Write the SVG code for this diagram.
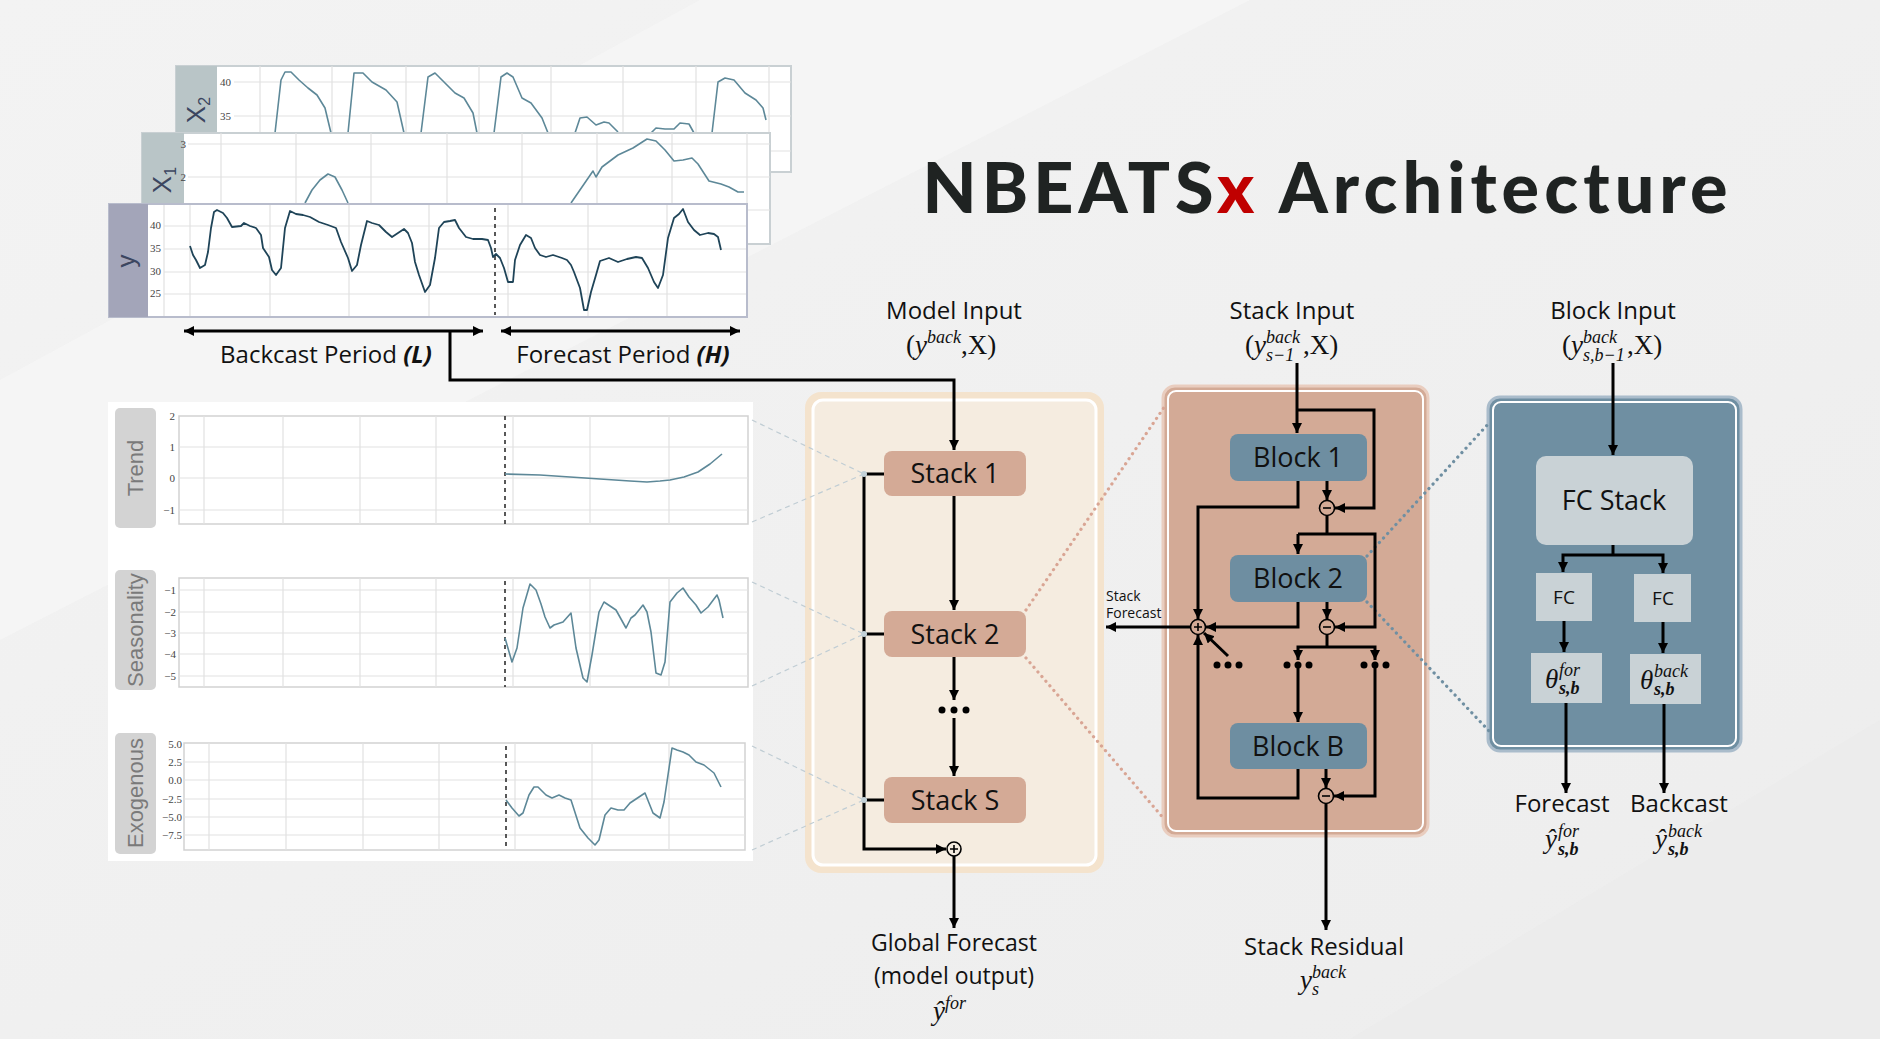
<svg xmlns="http://www.w3.org/2000/svg" width="1880" height="1039" viewBox="0 0 1880 1039">
<defs>
<marker id="ah" viewBox="0 0 10 10" refX="10" refY="5" markerWidth="10" markerHeight="10" markerUnits="userSpaceOnUse" orient="auto-start-reverse"><path d="M0,0 L10,5 L0,10 z" fill="#000"/></marker>
<linearGradient id="bg" x1="0" y1="0" x2="1" y2="1"><stop offset="0" stop-color="#f3f3f3"/><stop offset="0.5" stop-color="#f0f0f0"/><stop offset="1" stop-color="#ededed"/></linearGradient>
</defs>
<style>
.ui{font-family:"Open Sans","Noto Sans","Liberation Sans",sans-serif;fill:#111}
.m{font-family:"Liberation Serif","DejaVu Serif",serif;fill:#111}
.i{font-style:italic}
.tk{font-family:"Liberation Serif","DejaVu Serif",serif;font-size:11px;fill:#444}
.grid{stroke:#e2e2e2;stroke-width:1.2;fill:none}
.frame{fill:#fff;stroke:#d2d2d2;stroke-width:1.5}
.ln{fill:none;stroke:#000;stroke-width:3}
.ar{fill:none;stroke:#000;stroke-width:3;marker-end:url(#ah)}
.ar2{fill:none;stroke:#000;stroke-width:3;marker-end:url(#ah);marker-start:url(#ah)}
.op{fill:none;stroke:#000;stroke-width:1.6}
.dash{stroke:#222;stroke-width:1.5;stroke-dasharray:4 4}
.curve{fill:none;stroke:#5d8898;stroke-width:1.6;stroke-linejoin:round}
.stk{fill:#d4aa96}
.blk{fill:#6e8ea1}
.fc{fill:#c9d2d6}
.dl{font-family:"Liberation Sans",Arial,sans-serif;font-size:22px;fill:#7a7a7a}
.band{fill:#d3d3d3}
</style>
<rect width="1880" height="1039" fill="url(#bg)"/>
<polygon points="0,380 700,0 1250,0 0,640" fill="#f6f6f6" opacity="0.7"/>
<polygon points="1350,1039 1880,720 1880,1039" fill="#ebebeb" opacity="0.8"/>

<!-- Title -->
<text x="1325" y="213" font-family="Lato,'Open Sans',sans-serif" font-weight="900" font-size="70" text-anchor="middle" textLength="805" lengthAdjust="spacing" fill="#1f2322">NBEATS<tspan fill="#c00000">x</tspan> Architecture</text>

<!-- Top input charts -->
<g id="chart-x2">
<rect x="176" y="66" width="615" height="106" fill="#fff" stroke="#c9d0d3" stroke-width="2"/>
<rect x="176" y="66" width="41" height="106" fill="#b9c5c7"/>
<g class="grid"><path d="M234,82H791M234,116H791M234,151H791M260,66V172M332,66V172M406,66V172M479,66V172M551,66V172M623,66V172M696,66V172M769,66V172"/></g>
<text class="tk" x="231" y="86" text-anchor="end">40</text><text class="tk" x="231" y="120" text-anchor="end">35</text>
<text transform="translate(205,110) rotate(-90)" font-family="'Liberation Sans',sans-serif" font-size="26" fill="#3c4660" text-anchor="middle">X<tspan font-size="16" dy="5">2</tspan></text>
<polyline class="curve" points="275,133 281,80 285,72 291,72 299,80 308,88 317,95 325,108 331,133"/>
<polyline class="curve" points="348,133 354,73 363,73 372,82 386,90 397,102 404,133"/>
<polyline class="curve" points="421,133 428,77 435,73 444,82 455,93 464,98 473,113 477,133"/>
<polyline class="curve" points="494,133 501,77 507,73 513,77 522,98 531,103 542,118 548,133"/>
<polyline class="curve" points="575,133 580,118 587,117 596,125 604,122 609,123 618,132"/>
<polyline class="curve" points="651,133 656,128 665,129 674,129 680,123 689,124 694,133"/>
<polyline class="curve" points="712,133 718,82 725,78 734,80 745,93 756,100 763,108 766,120"/>
</g>
<g id="chart-x1">
<rect x="142" y="133" width="628" height="111" fill="#fff" stroke="#c9d0d3" stroke-width="2"/>
<rect x="142" y="133" width="42" height="111" fill="#b9c5c7"/>
<g class="grid"><path d="M188,144H770M188,177H770M188,210H770M221,133V244M296,133V244M371,133V244M447,133V244M522,133V244M597,133V244M672,133V244M747,133V244"/></g>
<text class="tk" x="186" y="148" text-anchor="end">3</text><text class="tk" x="186" y="181" text-anchor="end">2</text>
<text transform="translate(171,180) rotate(-90)" font-family="'Liberation Sans',sans-serif" font-size="26" fill="#3c4660" text-anchor="middle">X<tspan font-size="16" dy="5">1</tspan></text>
<polyline class="curve" points="305,203 312,190 320,180 328,174 335,177 342,190 348,203"/>
<polyline class="curve" points="571,203 582,187 593,171 596,177 602,167 618,155 633,148 647,139 656,141 665,150 674,161 683,160 692,158 698,164 709,181 721,184 729,187 738,192 744,192"/>
</g>
<g id="chart-y">
<rect x="109" y="204" width="638" height="113" fill="#fff" stroke="#b8bccc" stroke-width="2"/>
<rect x="109" y="204" width="39" height="113" fill="#a3a5b9"/>
<g class="grid"><path d="M164,205V316M164,226H746M164,249H746M164,272H746M164,294H746M190,205V316M270,205V316M349,205V316M429,205V316M508,205V316M588,205V316M667,205V316"/></g>
<text class="tk" x="161" y="229" text-anchor="end">40</text><text class="tk" x="161" y="252" text-anchor="end">35</text><text class="tk" x="161" y="275" text-anchor="end">30</text><text class="tk" x="161" y="297" text-anchor="end">25</text>
<text transform="translate(135,261) rotate(-90)" font-family="'Liberation Sans',sans-serif" font-size="26" fill="#3c4660" text-anchor="middle">y</text>
<line class="dash" x1="495" y1="208" x2="495" y2="315"/>
<polyline fill="none" stroke="#1f4458" stroke-width="1.8" stroke-linejoin="round" points="190,246 193,255 196,260 200,268 205,265 208,252 211,228 214,212 217,210 223,213 227,218 232,227 241,226 244,223 250,226 256,228 261,235 263,248 269,257 272,270 276,275 281,268 285,228 290,211 296,214 303,215 310,217 319,222 328,225 336,228 341,242 348,258 352,271 357,265 361,245 367,221 372,223 379,225 386,232 392,237 398,233 404,229 408,233 412,243 415,262 419,275 425,292 430,285 435,258 439,228 444,222 450,221 455,220 459,228 466,237 473,239 482,239 488,240 491,248 493,257 496,254 500,258 504,268 508,282 513,282 515,260 520,245 526,235 531,238 535,248 540,255 546,257 553,255 562,258 567,260 571,265 574,272 580,288 584,310 587,310 591,292 596,275 600,261 609,258 618,262 627,259 636,257 642,258 648,268 654,282 658,288 663,275 668,238 674,218 679,214 683,209 688,222 694,230 700,235 708,233 714,234 718,237 721,250"/>
</g>

<!-- Period arrows -->
<g id="periods">
<path class="ar2" d="M184,331H483"/>
<path class="ar2" d="M501,331H740"/>
<text class="ui" x="326" y="363" font-size="24" text-anchor="middle">Backcast Period <tspan font-weight="bold" font-style="italic">(L)</tspan></text>
<text class="ui" x="623" y="363" font-size="24" text-anchor="middle">Forecast Period <tspan font-weight="bold" font-style="italic">(H)</tspan></text>
</g>

<!-- Decomposition panels -->
<g id="decomposition">
<rect x="108" y="402" width="645" height="459" fill="#fff"/>
<g id="trend">
<rect class="band" x="115" y="408" width="41" height="120" rx="5"/>
<text class="dl" transform="translate(143,468) rotate(-90)" text-anchor="middle">Trend</text>
<rect class="frame" x="179" y="416" width="569" height="108"/>
<g class="grid"><path d="M179,447H748M179,478H748M179,510H748M204,416V524M283,416V524M360,416V524M436,416V524M513,416V524M590,416V524M669,416V524"/></g>
<text class="tk" x="175" y="420" text-anchor="end">2</text><text class="tk" x="175" y="451" text-anchor="end">1</text><text class="tk" x="175" y="482" text-anchor="end">0</text><text class="tk" x="175" y="514" text-anchor="end">−1</text>
<line class="dash" x1="505" y1="416" x2="505" y2="524"/>
<polyline class="curve" points="505,474 540,475 570,477 600,479 630,481 647,482 660,481 670,480 684,477 698,472 710,464 722,454"/>
</g>
<g id="seasonality">
<rect class="band" x="115" y="570" width="41" height="120" rx="5"/>
<text class="dl" transform="translate(143,630) rotate(-90)" text-anchor="middle">Seasonality</text>
<rect class="frame" x="179" y="578" width="569" height="109"/>
<g class="grid"><path d="M179,590H748M179,612H748M179,633H748M179,654H748M179,676H748M204,578V687M283,578V687M360,578V687M436,578V687M513,578V687M590,578V687M669,578V687"/></g>
<text class="tk" x="176" y="594" text-anchor="end">−1</text><text class="tk" x="176" y="616" text-anchor="end">−2</text><text class="tk" x="176" y="637" text-anchor="end">−3</text><text class="tk" x="176" y="658" text-anchor="end">−4</text><text class="tk" x="176" y="680" text-anchor="end">−5</text>
<line class="dash" x1="505" y1="581" x2="505" y2="687"/>
<polyline class="curve" points="505,638 512,662 517,648 523,608 530,584 536,590 541,604 545,617 550,628 554,625 563,622 571,613 576,648 583,678 587,682 592,655 599,612 604,602 616,610 626,628 631,618 635,615 643,605 647,612 651,632 656,673 661,675 665,662 670,602 677,593 683,588 689,597 696,605 701,613 708,607 717,595 719,600 723,618"/>
</g>
<g id="exogenous">
<rect class="band" x="115" y="733" width="41" height="121" rx="5"/>
<text class="dl" transform="translate(143,793) rotate(-90)" text-anchor="middle">Exogenous</text>
<rect class="frame" x="184" y="743" width="561" height="107"/>
<g class="grid"><path d="M184,762H745M184,780H745M184,799H745M184,817H745M184,835H745M209,743V850M286,743V850M363,743V850M439,743V850M515,743V850M592,743V850M669,743V850"/></g>
<text class="tk" x="182" y="748" text-anchor="end">5.0</text><text class="tk" x="182" y="766" text-anchor="end">2.5</text><text class="tk" x="182" y="784" text-anchor="end">0.0</text><text class="tk" x="182" y="803" text-anchor="end">−2.5</text><text class="tk" x="182" y="821" text-anchor="end">−5.0</text><text class="tk" x="182" y="839" text-anchor="end">−7.5</text>
<line class="dash" x1="506" y1="746" x2="506" y2="850"/>
<polyline class="curve" points="506,800 512,808 519,816 523,813 529,795 534,787 538,787 546,795 552,798 559,795 565,798 571,800 580,828 588,838 595,845 599,840 605,815 611,808 618,810 624,810 630,803 639,797 645,793 649,803 653,813 660,818 664,802 672,748 677,750 683,752 689,755 696,762 704,765 714,773 721,787"/>
</g>
</g>

<!-- Panels -->
<g id="stack-panel">
<rect x="805" y="392" width="299" height="481" rx="16" fill="#f4e3cd"/>
<rect x="813" y="400" width="283" height="465" rx="10" fill="#f5ece0" stroke="#fff" stroke-width="3"/>
</g>
<g id="block-panel">
<rect x="1163" y="386" width="265" height="450" rx="12" fill="#d3aa96" stroke="#e9cdbf" stroke-width="3"/>
<rect x="1168" y="391" width="255" height="440" rx="8" fill="none" stroke="#fff" stroke-width="2"/>
</g>
<g id="block-detail-panel">
<rect x="1488" y="397" width="253" height="354" rx="12" fill="#6f8fa2" stroke="#aabccb" stroke-width="3"/>
<rect x="1493" y="402" width="243" height="344" rx="8" fill="none" stroke="#fff" stroke-width="2"/>
</g>

<!-- Connectors -->
<g id="connectors">
<g stroke="#c0cdd4" stroke-width="1.2" stroke-dasharray="5 4" fill="none">
<path d="M752,420L864,474M752,522L864,474M752,582L864,634M752,686L864,634M752,746L864,800M752,850L864,800"/>
</g>
<g stroke="#d9a594" stroke-width="3.2" stroke-dasharray="0.1 6" stroke-linecap="round" fill="none">
<path d="M1026,610L1165,406M1026,658L1165,820"/>
</g>
<g stroke="#6f8fa2" stroke-width="3.2" stroke-dasharray="0.1 6" stroke-linecap="round" fill="none">
<path d="M1367,556L1490,422M1367,602L1490,732"/>
</g>
<path class="ar" d="M450,331V380H954V450"/>
<path class="ar" d="M954,496V610"/>
<path class="ar" d="M954,657V700"/>
<path class="ar" d="M954,718V776"/>
<path class="ar" d="M884,474H864V849H946"/>
<path class="ln" d="M864,634H884M864,800H884"/>
<circle cx="864" cy="474" r="3" fill="#c3d1d8"/><circle cx="864" cy="634" r="3" fill="#c3d1d8"/><circle cx="864" cy="800" r="3" fill="#c3d1d8"/>
<circle class="op" cx="954" cy="849" r="7"/><path class="op" d="M950,849H958M954,845V853"/>
<path class="ar" d="M954,856V928"/>
<g fill="#000"><circle cx="942" cy="710" r="3.5"/><circle cx="954" cy="710" r="3.5"/><circle cx="966" cy="710" r="3.5"/></g>

<path class="ar" d="M1297,363V433"/>
<path class="ar" d="M1297,410H1374V508H1335"/>
<path class="ar" d="M1327,481V500"/>
<path class="ar" d="M1298,481V507H1198V619"/>
<path class="ln" d="M1327,516V534"/>
<path class="ar" d="M1298,534H1375V627H1335"/>
<path class="ar" d="M1298,534V554"/>
<path class="ar" d="M1327,602V619"/>
<path class="ar" d="M1298,602V627H1206"/>
<path class="ln" d="M1327,635V647"/>
<path class="ar2" d="M1298,660V647H1375V660"/>
<path class="ar" d="M1298,668V722"/>
<path class="ar" d="M1375,668V796H1334"/>
<path class="ar" d="M1326,769V788"/>
<path class="ar" d="M1298,769V798H1198V635"/>
<path class="ar" d="M1228,656L1204,633"/>
<path class="ar" d="M1190,627H1106"/>
<path class="ar" d="M1326,804V930"/>
<circle class="op" cx="1198" cy="627" r="7.5"/><path class="op" d="M1194,627H1202M1198,623V631"/>
<circle class="op" cx="1327" cy="508" r="7.5"/><path class="op" d="M1323,508H1331"/>
<circle class="op" cx="1327" cy="627" r="7.5"/><path class="op" d="M1323,627H1331"/>
<circle class="op" cx="1326" cy="796" r="7.5"/><path class="op" d="M1322,796H1330"/>
<g fill="#000">
<circle cx="1217" cy="665" r="3.5"/><circle cx="1228" cy="665" r="3.5"/><circle cx="1239" cy="665" r="3.5"/>
<circle cx="1287" cy="665" r="3.5"/><circle cx="1298" cy="665" r="3.5"/><circle cx="1309" cy="665" r="3.5"/>
<circle cx="1364" cy="665" r="3.5"/><circle cx="1375" cy="665" r="3.5"/><circle cx="1386" cy="665" r="3.5"/>
</g>

<path class="ar" d="M1613,363V455"/>
<path class="ln" d="M1613,545V555"/>
<path class="ar2" d="M1563,572V555H1663V573"/>
<path class="ar" d="M1564,621V652"/>
<path class="ar" d="M1663,622V653"/>
<path class="ar" d="M1566,703V793"/>
<path class="ar" d="M1664,704V793"/>
</g>

<!-- Labels -->
<g id="model-input">
<text class="ui" x="954" y="319" font-size="24" text-anchor="middle">Model Input</text>
<text class="m" x="906" y="354" font-size="27">(<tspan class="i">y</tspan><tspan class="i" font-size="18" dy="-11">back</tspan><tspan dy="11">,X)</tspan></text>
</g>
<g id="stack-input">
<text class="ui" x="1292" y="319" font-size="24" text-anchor="middle">Stack Input</text>
<text class="m" font-size="27" y="354"><tspan x="1245">(</tspan><tspan class="i" x="1254">y</tspan><tspan x="1303">,X)</tspan></text>
<text class="m i" font-size="18" x="1266" y="343">back</text>
<text class="m i" font-size="18" x="1266" y="361">s−1</text>
</g>
<g id="block-input">
<text class="ui" x="1613" y="319" font-size="24" text-anchor="middle">Block Input</text>
<text class="m" font-size="27" y="354"><tspan x="1562">(</tspan><tspan class="i" x="1571">y</tspan><tspan x="1627">,X)</tspan></text>
<text class="m i" font-size="18" x="1583" y="343">back</text>
<text class="m i" font-size="18" x="1583" y="361">s,b−1</text>
</g>
<text class="ui" x="1106" y="601" font-size="14">Stack</text>
<text class="ui" x="1106" y="618" font-size="14">Forecast</text>
<g id="global-forecast">
<text class="ui" x="954" y="951" font-size="23" text-anchor="middle">Global Forecast</text>
<text class="ui" x="954" y="984" font-size="23" text-anchor="middle">(model output)</text>
<text class="m" x="933" y="1020" font-size="27"><tspan class="i">ŷ</tspan><tspan class="i" font-size="18" dy="-11">for</tspan></text>
</g>
<g id="stack-residual">
<text class="ui" x="1324" y="955" font-size="24" text-anchor="middle">Stack Residual</text>
<text class="m i" x="1300" y="989" font-size="27">y</text>
<text class="m i" x="1312" y="978" font-size="18">back</text>
<text class="m i" x="1312" y="995" font-size="18">s</text>
</g>
<g id="forecast-out">
<text class="ui" x="1562" y="812" font-size="24" text-anchor="middle">Forecast</text>
<text class="m i" x="1545" y="848" font-size="27">ŷ</text>
<text class="m i" x="1558" y="837" font-size="18">for</text>
<text class="m i" x="1558" y="855" font-size="18" font-weight="bold">s,b</text>
</g>
<g id="backcast-out">
<text class="ui" x="1679" y="812" font-size="24" text-anchor="middle">Backcast</text>
<text class="m i" x="1655" y="848" font-size="27">ŷ</text>
<text class="m i" x="1668" y="837" font-size="18">back</text>
<text class="m i" x="1668" y="855" font-size="18" font-weight="bold">s,b</text>
</g>

<!-- Nodes -->
<g id="stack-1"><rect class="stk" x="884" y="451" width="142" height="45" rx="8"/><text class="ui" x="955" y="483" font-size="27" text-anchor="middle">Stack 1</text></g>
<g id="stack-2"><rect class="stk" x="884" y="611" width="142" height="46" rx="8"/><text class="ui" x="955" y="644" font-size="27" text-anchor="middle">Stack 2</text></g>
<g id="stack-s"><rect class="stk" x="884" y="777" width="142" height="46" rx="8"/><text class="ui" x="955" y="810" font-size="27" text-anchor="middle">Stack S</text></g>
<g id="block-1"><rect class="blk" x="1230" y="434" width="137" height="47" rx="8"/><text class="ui" x="1298" y="467" font-size="27" text-anchor="middle">Block 1</text></g>
<g id="block-2"><rect class="blk" x="1230" y="555" width="137" height="47" rx="8"/><text class="ui" x="1298" y="588" font-size="27" text-anchor="middle">Block 2</text></g>
<g id="block-b"><rect class="blk" x="1230" y="723" width="137" height="46" rx="8"/><text class="ui" x="1298" y="756" font-size="27" text-anchor="middle">Block B</text></g>
<g id="fc-stack"><rect class="fc" x="1536" y="456" width="157" height="89" rx="10"/><text class="ui" x="1614" y="510" font-size="27" text-anchor="middle">FC Stack</text></g>
<g id="fc-left"><rect class="fc" x="1536" y="573" width="56" height="48"/><text class="ui" x="1564" y="604" font-size="19" text-anchor="middle">FC</text></g>
<g id="fc-right"><rect class="fc" x="1634" y="574" width="57" height="48"/><text class="ui" x="1663" y="605" font-size="19" text-anchor="middle">FC</text></g>
<g id="theta-for"><rect class="fc" x="1531" y="653" width="71" height="50"/>
<text class="m i" x="1545" y="688" font-size="27">θ</text><text class="m i" x="1559" y="676" font-size="18">for</text><text class="m i" x="1559" y="694" font-size="18" font-weight="bold">s,b</text></g>
<g id="theta-back"><rect class="fc" x="1630" y="654" width="71" height="50"/>
<text class="m i" x="1640" y="689" font-size="27">θ</text><text class="m i" x="1654" y="677" font-size="18">back</text><text class="m i" x="1654" y="695" font-size="18" font-weight="bold">s,b</text></g>
</svg>
